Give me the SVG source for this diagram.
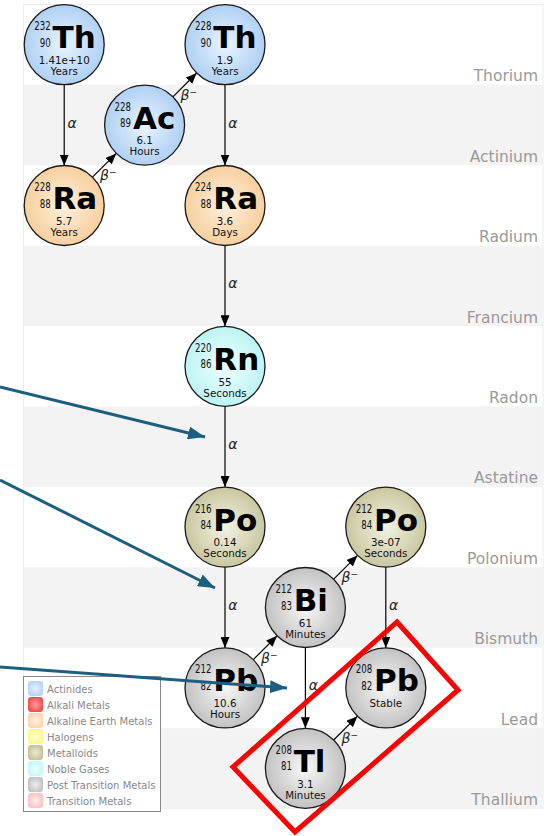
<svg xmlns="http://www.w3.org/2000/svg" width="555" height="836" viewBox="0 0 555 836">
<style>
.band{fill:#f3f3f3}
.blabel{font-family:"DejaVu Sans",sans-serif;font-size:15.5px;fill:#9a9a9a;text-anchor:end}
.node circle{stroke:#1a1a1a;stroke-width:1.3}
.mass,.z{font-family:"DejaVu Sans",sans-serif;font-size:12px;fill:#111;text-anchor:end}
.sym{font-family:"DejaVu Sans",sans-serif;font-weight:bold;font-size:31px;fill:#000}
.hl{font-family:"DejaVu Sans",sans-serif;font-size:10.3px;fill:#111;text-anchor:middle}
.conn line{stroke:#000;stroke-width:1.2;marker-end:url(#ah)}
.lab{font-family:"DejaVu Sans",sans-serif;font-style:italic;font-size:14px;fill:#222}
.sup{font-size:9px;font-style:normal}
.leg{font-family:"DejaVu Sans",sans-serif;font-size:10px;fill:#888}
.blue line{stroke:#1b5e80;stroke-width:3;marker-end:url(#bh)}
</style>
<defs>
<radialGradient id="gAct"><stop offset="0" stop-color="#eaf4fe"/><stop offset="1" stop-color="#afd0f4"/></radialGradient>
<radialGradient id="gAlk"><stop offset="0" stop-color="#fff1df"/><stop offset="1" stop-color="#f7cf9e"/></radialGradient>
<radialGradient id="gNob"><stop offset="0" stop-color="#f0ffff"/><stop offset="1" stop-color="#bdf4f4"/></radialGradient>
<radialGradient id="gMet"><stop offset="0" stop-color="#f3f3e3"/><stop offset="1" stop-color="#c9c7a0"/></radialGradient>
<radialGradient id="gPost"><stop offset="0" stop-color="#f8f8f8"/><stop offset="1" stop-color="#c2c2c2"/></radialGradient>
<radialGradient id="sAct"><stop offset="0" stop-color="#e8f2ff"/><stop offset="1" stop-color="#b8d4f6"/></radialGradient>
<radialGradient id="sAlkali"><stop offset="0" stop-color="#ffa0a0"/><stop offset="1" stop-color="#f05050"/></radialGradient>
<radialGradient id="sAlk"><stop offset="0" stop-color="#fff0e0"/><stop offset="1" stop-color="#fcd6b0"/></radialGradient>
<radialGradient id="sHal"><stop offset="0" stop-color="#ffffd0"/><stop offset="1" stop-color="#fbf890"/></radialGradient>
<radialGradient id="sMet"><stop offset="0" stop-color="#ececd4"/><stop offset="1" stop-color="#c6c49a"/></radialGradient>
<radialGradient id="sNob"><stop offset="0" stop-color="#f0ffff"/><stop offset="1" stop-color="#c6f8f8"/></radialGradient>
<radialGradient id="sPost"><stop offset="0" stop-color="#efefef"/><stop offset="1" stop-color="#c4c4c4"/></radialGradient>
<radialGradient id="sTr"><stop offset="0" stop-color="#fff0f0"/><stop offset="1" stop-color="#fcc4c4"/></radialGradient>
<marker id="ah" markerUnits="userSpaceOnUse" markerWidth="11" markerHeight="9" refX="11" refY="4.5" orient="auto"><path d="M0,0 L11,4.5 L0,9 z" fill="#000"/></marker>
<marker id="bh" markerUnits="userSpaceOnUse" markerWidth="17" markerHeight="13" refX="17" refY="6.5" orient="auto"><path d="M0,0 L17,6.5 L0,13 z" fill="#1b5e80"/></marker>
</defs>
<rect width="555" height="836" fill="#fff"/>
<g id="bands">
<rect x="23.5" y="4.5" width="519.5" height="804" fill="#fff" stroke="#ececec"/>
<rect class="band" x="24" y="84.9" width="519" height="80.4"/>
<rect class="band" x="24" y="245.7" width="519" height="80.4"/>
<rect class="band" x="24" y="406.5" width="519" height="80.4"/>
<rect class="band" x="24" y="567.3" width="519" height="80.4"/>
<rect class="band" x="24" y="728.1" width="519" height="80.4"/>
<text class="blabel" x="538" y="81.4">Thorium</text>
<text class="blabel" x="538" y="161.8">Actinium</text>
<text class="blabel" x="538" y="242.2">Radium</text>
<text class="blabel" x="538" y="322.6">Francium</text>
<text class="blabel" x="538" y="403">Radon</text>
<text class="blabel" x="538" y="483.4">Astatine</text>
<text class="blabel" x="538" y="563.8">Polonium</text>
<text class="blabel" x="538" y="644.2">Bismuth</text>
<text class="blabel" x="538" y="724.6">Lead</text>
<text class="blabel" x="538" y="805">Thallium</text>
</g>
<g id="connectors" class="conn">
<line x1="64.2" y1="84.7" x2="64.2" y2="165.5"/>
<line x1="92.5" y1="177.2" x2="116.3" y2="153.4"/>
<line x1="172.9" y1="96.8" x2="196.7" y2="73"/>
<line x1="225" y1="84.7" x2="225" y2="165.5"/>
<line x1="225" y1="245.5" x2="225" y2="326.3"/>
<line x1="225" y1="406.3" x2="225" y2="487.1"/>
<line x1="225" y1="567.1" x2="225" y2="647.9"/>
<line x1="253.3" y1="659.6" x2="277.1" y2="635.8"/>
<line x1="333.7" y1="579.2" x2="357.5" y2="555.4"/>
<line x1="305.4" y1="647.5" x2="305.4" y2="728.3"/>
<line x1="385.8" y1="567.1" x2="385.8" y2="647.9"/>
<line x1="333.7" y1="740" x2="357.5" y2="716.2"/>
<text class="lab" x="67.5" y="127.5">α</text>
<text class="lab" x="228.3" y="127.5">α</text>
<text class="lab" x="228.3" y="288.3">α</text>
<text class="lab" x="228.3" y="449.1">α</text>
<text class="lab" x="228.3" y="609.9">α</text>
<text class="lab" x="308.7" y="690.3">α</text>
<text class="lab" x="389.1" y="609.9">α</text>
<text class="lab" x="100" y="180">β<tspan class="sup" dy="-5">−</tspan></text>
<text class="lab" x="180.5" y="100">β<tspan class="sup" dy="-5">−</tspan></text>
<text class="lab" x="261" y="662.5">β<tspan class="sup" dy="-5">−</tspan></text>
<text class="lab" x="341.5" y="582">β<tspan class="sup" dy="-5">−</tspan></text>
<text class="lab" x="341.5" y="743">β<tspan class="sup" dy="-5">−</tspan></text>
</g>
<g id="th232" class="node"><circle cx="64.2" cy="44.7" r="40" fill="url(#gAct)"/>
<text class="mass" x="50.7" y="30.2" textLength="16.5" lengthAdjust="spacingAndGlyphs">232</text><text class="z" x="50.7" y="46.7" textLength="11" lengthAdjust="spacingAndGlyphs">90</text><text class="sym" x="52.5" y="48.2">Th</text>
<text class="hl" x="64.2" y="63.9">1.41e+10</text><text class="hl" x="64.2" y="74.9">Years</text></g>
<g id="ac228" class="node"><circle cx="144.6" cy="125.1" r="40" fill="url(#gAct)"/>
<text class="mass" x="131.1" y="110.6" textLength="16.5" lengthAdjust="spacingAndGlyphs">228</text><text class="z" x="131.1" y="127.1" textLength="11" lengthAdjust="spacingAndGlyphs">89</text><text class="sym" x="132.9" y="128.6">Ac</text>
<text class="hl" x="144.6" y="144.3">6.1</text><text class="hl" x="144.6" y="155.3">Hours</text></g>
<g id="th228" class="node"><circle cx="225" cy="44.7" r="40" fill="url(#gAct)"/>
<text class="mass" x="211.5" y="30.2" textLength="16.5" lengthAdjust="spacingAndGlyphs">228</text><text class="z" x="211.5" y="46.7" textLength="11" lengthAdjust="spacingAndGlyphs">90</text><text class="sym" x="213.3" y="48.2">Th</text>
<text class="hl" x="225" y="63.9">1.9</text><text class="hl" x="225" y="74.9">Years</text></g>
<g id="ra228" class="node"><circle cx="64.2" cy="205.5" r="40" fill="url(#gAlk)"/>
<text class="mass" x="50.7" y="191" textLength="16.5" lengthAdjust="spacingAndGlyphs">228</text><text class="z" x="50.7" y="207.5" textLength="11" lengthAdjust="spacingAndGlyphs">88</text><text class="sym" x="52.5" y="209">Ra</text>
<text class="hl" x="64.2" y="224.7">5.7</text><text class="hl" x="64.2" y="235.7">Years</text></g>
<g id="ra224" class="node"><circle cx="225" cy="205.5" r="40" fill="url(#gAlk)"/>
<text class="mass" x="211.5" y="191" textLength="16.5" lengthAdjust="spacingAndGlyphs">224</text><text class="z" x="211.5" y="207.5" textLength="11" lengthAdjust="spacingAndGlyphs">88</text><text class="sym" x="213.3" y="209">Ra</text>
<text class="hl" x="225" y="224.7">3.6</text><text class="hl" x="225" y="235.7">Days</text></g>
<g id="rn220" class="node"><circle cx="225" cy="366.3" r="40" fill="url(#gNob)"/>
<text class="mass" x="211.5" y="351.8" textLength="16.5" lengthAdjust="spacingAndGlyphs">220</text><text class="z" x="211.5" y="368.3" textLength="11" lengthAdjust="spacingAndGlyphs">86</text><text class="sym" x="213.3" y="369.8">Rn</text>
<text class="hl" x="225" y="385.5">55</text><text class="hl" x="225" y="396.5">Seconds</text></g>
<g id="po216" class="node"><circle cx="225" cy="527.1" r="40" fill="url(#gMet)"/>
<text class="mass" x="211.5" y="512.6" textLength="16.5" lengthAdjust="spacingAndGlyphs">216</text><text class="z" x="211.5" y="529.1" textLength="11" lengthAdjust="spacingAndGlyphs">84</text><text class="sym" x="213.3" y="530.6">Po</text>
<text class="hl" x="225" y="546.3">0.14</text><text class="hl" x="225" y="557.3">Seconds</text></g>
<g id="po212" class="node"><circle cx="385.8" cy="527.1" r="40" fill="url(#gMet)"/>
<text class="mass" x="372.3" y="512.6" textLength="16.5" lengthAdjust="spacingAndGlyphs">212</text><text class="z" x="372.3" y="529.1" textLength="11" lengthAdjust="spacingAndGlyphs">84</text><text class="sym" x="374.1" y="530.6">Po</text>
<text class="hl" x="385.8" y="546.3">3e-07</text><text class="hl" x="385.8" y="557.3">Seconds</text></g>
<g id="bi212" class="node"><circle cx="305.4" cy="607.5" r="40" fill="url(#gPost)"/>
<text class="mass" x="291.9" y="593" textLength="16.5" lengthAdjust="spacingAndGlyphs">212</text><text class="z" x="291.9" y="609.5" textLength="11" lengthAdjust="spacingAndGlyphs">83</text><text class="sym" x="293.7" y="611">Bi</text>
<text class="hl" x="305.4" y="626.7">61</text><text class="hl" x="305.4" y="637.7">Minutes</text></g>
<g id="pb212" class="node"><circle cx="225" cy="687.9" r="40" fill="url(#gPost)"/>
<text class="mass" x="211.5" y="673.4" textLength="16.5" lengthAdjust="spacingAndGlyphs">212</text><text class="z" x="211.5" y="689.9" textLength="11" lengthAdjust="spacingAndGlyphs">82</text><text class="sym" x="213.3" y="691.4">Pb</text>
<text class="hl" x="225" y="707.1">10.6</text><text class="hl" x="225" y="718.1">Hours</text></g>
<g id="pb208" class="node"><circle cx="385.8" cy="687.9" r="40" fill="url(#gPost)"/>
<text class="mass" x="372.3" y="673.4" textLength="16.5" lengthAdjust="spacingAndGlyphs">208</text><text class="z" x="372.3" y="689.9" textLength="11" lengthAdjust="spacingAndGlyphs">82</text><text class="sym" x="374.1" y="691.4">Pb</text>
<text class="hl" x="385.8" y="707.2">Stable</text></g>
<g id="tl208" class="node"><circle cx="305.4" cy="768.3" r="40" fill="url(#gPost)"/>
<text class="mass" x="291.9" y="753.8" textLength="16.5" lengthAdjust="spacingAndGlyphs">208</text><text class="z" x="291.9" y="770.3" textLength="11" lengthAdjust="spacingAndGlyphs">81</text><text class="sym" x="293.7" y="771.8">Tl</text>
<text class="hl" x="305.4" y="787.5">3.1</text><text class="hl" x="305.4" y="798.5">Minutes</text></g>
<g id="legend">
<rect x="23.5" y="676.5" width="137" height="135" fill="#fff" stroke="#888"/>
<rect x="28" y="681" width="15" height="15" rx="3" fill="url(#sAct)"/><text class="leg" x="47" y="693">Actinides</text>
<rect x="28" y="697" width="15" height="15" rx="3" fill="url(#sAlkali)"/><text class="leg" x="47" y="709">Alkali Metals</text>
<rect x="28" y="713" width="15" height="15" rx="3" fill="url(#sAlk)"/><text class="leg" x="47" y="725">Alkaline Earth Metals</text>
<rect x="28" y="729" width="15" height="15" rx="3" fill="url(#sHal)"/><text class="leg" x="47" y="741">Halogens</text>
<rect x="28" y="745" width="15" height="15" rx="3" fill="url(#sMet)"/><text class="leg" x="47" y="757">Metalloids</text>
<rect x="28" y="761" width="15" height="15" rx="3" fill="url(#sNob)"/><text class="leg" x="47" y="773">Noble Gases</text>
<rect x="28" y="777" width="15" height="15" rx="3" fill="url(#sPost)"/><text class="leg" x="47" y="789">Post Transition Metals</text>
<rect x="28" y="793" width="15" height="15" rx="3" fill="url(#sTr)"/><text class="leg" x="47" y="805">Transition Metals</text>
</g>
<g id="highlight">
<polygon points="397,622 458,690 295,832 233,767" fill="none" stroke="#f00" stroke-width="5"/>
</g>
<g id="pointers" class="blue">
<line x1="0" y1="387" x2="205" y2="437"/>
<line x1="0" y1="480" x2="215" y2="588"/>
<line x1="0" y1="667" x2="287" y2="688"/>
</g>
</svg>
